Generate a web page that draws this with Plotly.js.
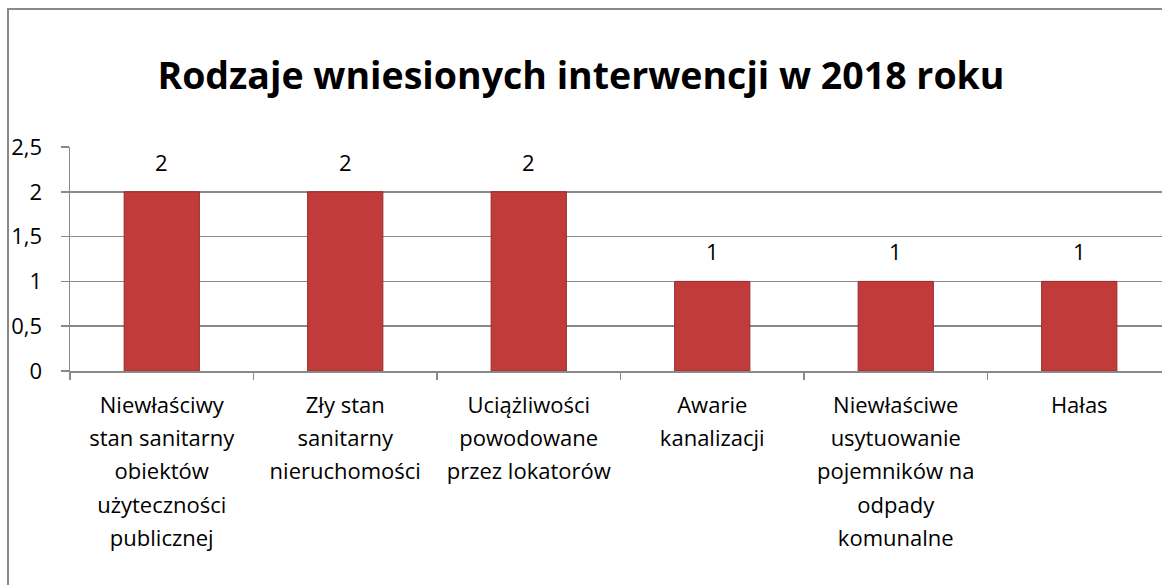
<!DOCTYPE html>
<html>
<head>
<meta charset="utf-8">
<script src="https://cdn.plot.ly/plotly-3.0.1.min.js"></script>
<style>
  html, body { margin: 0; padding: 0; overflow: hidden; background: #ffffff; width: 1162px; height: 585px; }
  #frame { position: absolute; left: 7px; top: 8px; width: 1180px; height: 620px; border: 2px solid #898989; background: #fff; }
  #chart { width: 1180px; height: 620px; }
</style>
</head>
<body>
<div id="frame"><div id="chart"></div></div>
<script>
// Category labels, one array of lines per category
const categoryLines = [
  ["Niewłaściwy", "stan sanitarny", "obiektów", "użyteczności", "publicznej"],
  ["Zły stan", "sanitarny", "nieruchomości"],
  ["Uciążliwości", "powodowane", "przez lokatorów"],
  ["Awarie", "kanalizacji"],
  ["Niewłaściwe", "usytuowanie", "pojemników na", "odpady", "komunalne"],
  ["Hałas"]
];
const values = [2, 2, 2, 1, 1, 1];
const titleText = "Rodzaje wniesionych interwencji w 2018 roku";

const FONT = "'Open Sans', Lato, sans-serif";
const LABEL_SIZE = 22;

const categories = categoryLines.map(lines => lines.join(" "));
const tickText = categoryLines.map(lines =>
  lines.map(l => '<span style="font-size:' + LABEL_SIZE + 'px">' + l + '</span>').join("<br>")
);

const trace = {
  type: "bar",
  x: categories,
  y: values,
  marker: { color: "#C23B3B", line: { color: "#9A2A2A", width: 1 } },
  hoverinfo: "skip"
};

const annotations = categories.map((c, i) => ({
  x: c, y: values[i], xref: "x", yref: "y",
  text: String(values[i]), showarrow: false,
  yanchor: "bottom", yshift: 13,
  font: { family: FONT, size: LABEL_SIZE, color: "#000" }
}));

const layout = {
  width: 1180, height: 620,
  margin: { l: 61, r: 18, t: 137, b: 259 },
  paper_bgcolor: "#ffffff", plot_bgcolor: "#ffffff",
  separators: ", ",
  showlegend: false,
  bargap: 0.59,
  title: {
    text: "<b>" + titleText + "</b>",
    font: { family: FONT, size: 37.5, color: "#000" },
    xref: "container", x: 0.4847, xanchor: "center",
    yref: "container", y: 0.894, yanchor: "middle"
  },
  xaxis: {
    type: "category",
    tickmode: "array", tickvals: categories, ticktext: tickText,
    showline: true, linecolor: "#898989", linewidth: 1.5,
    ticks: "outside", tickson: "boundaries", ticklen: 7, tickcolor: "#898989", tickwidth: 1.5,
    tickfont: { family: FONT, size: 25.5, color: "#000" },
    ticklabelstandoff: 10,
    showgrid: false, zeroline: false, tickangle: 0, automargin: false
  },
  yaxis: {
    range: [0, 2.5], dtick: 0.5, tick0: 0,
    showline: true, linecolor: "#898989", linewidth: 1.5,
    ticks: "outside", ticklen: 8, tickcolor: "#898989", tickwidth: 1.5,
    showgrid: true, gridcolor: "#898989", gridwidth: 1.5,
    zeroline: false,
    tickfont: { family: FONT, size: LABEL_SIZE, color: "#000" },
    ticklabelstandoff: 14,
    automargin: false
  },
  annotations: annotations
};

Plotly.newPlot("chart", [trace], layout, { displayModeBar: false, staticPlot: true });
</script>
</body>
</html>
